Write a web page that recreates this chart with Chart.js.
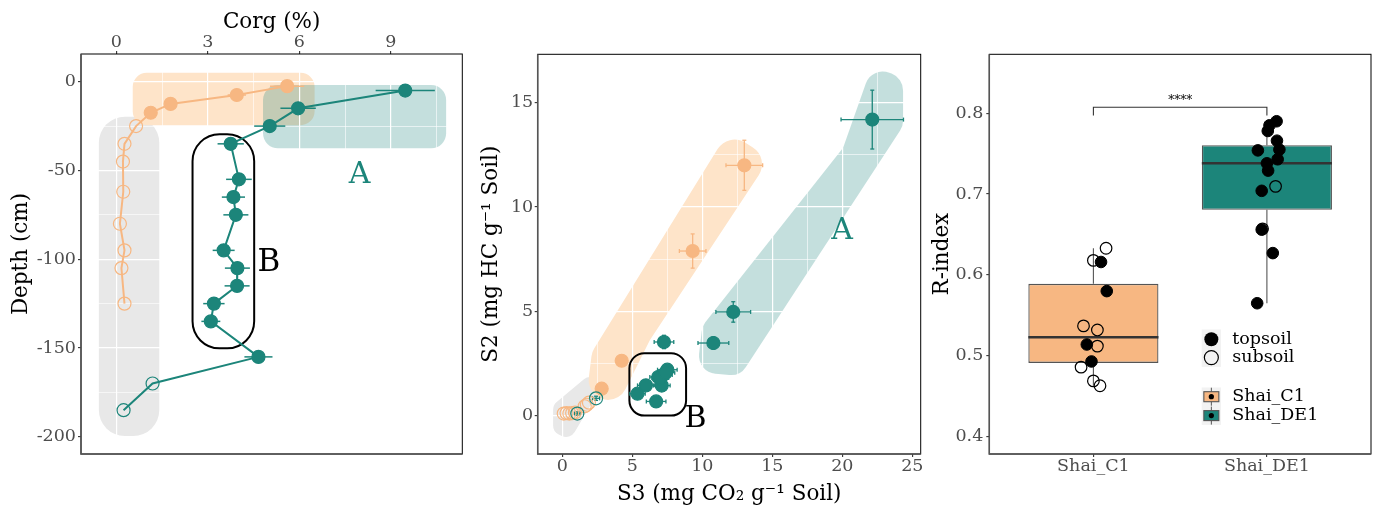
<!DOCTYPE html>
<html><head><meta charset="utf-8">
<script src="https://cdn.jsdelivr.net/npm/chart.js@4.4.1/dist/chart.umd.min.js"></script>
<style>
html,body{margin:0;padding:0;background:#fff;}
#wrap{position:relative;width:1378px;height:508px;overflow:hidden;}
.p{position:absolute;top:0;height:508px;}
</style></head><body>
<div id="wrap">
<div class="p" style="left:0;width:470px"><canvas id="c1"></canvas></div>
<div class="p" style="left:470px;width:460px"><canvas id="c2"></canvas></div>
<div class="p" style="left:930px;width:448px"><canvas id="c3"></canvas></div>
</div>
<script>
// ================= DATA =================
// Panel 1 : Corg (%) vs depth (cm)
const c1Depth   = [-2.5,-7.5,-12.5,-17.5,-25,-35,-45,-62,-80,-95,-105,-125];
const c1Corg    = [5.6,3.95,1.78,1.13,0.65,0.27,0.22,0.23,0.12,0.27,0.17,0.27];
const c1CorgErr = [0.56,0.3,0,0,0,0,0,0,0,0,0,0];
const c1Topsoil = [1,1,1,1,0,0,0,0,0,0,0,0];
const de1Depth   = [-5,-15,-25,-35,-55,-65,-75,-95,-105,-115,-125,-135,-155,-170,-185];
const de1Corg    = [9.47,5.96,5.03,3.75,4.02,3.84,3.92,3.52,3.97,3.96,3.2,3.1,4.66,1.19,0.24];
const de1CorgErr = [0.97,0.58,0.51,0.43,0.42,0.38,0.41,0.36,0.41,0.41,0.35,0.31,0.46,0,0];
const de1Topsoil = [1,1,1,1,1,1,1,1,1,1,1,1,1,0,0];

// Panel 2 : S3 vs S2
const c1S3    = [13.0,9.31,4.24,2.81,1.9,1.75,1.6,0.9,0.7,0.5,0.3,0.1];
const c1S2    = [12.0,7.89,2.63,1.29,0.62,0.52,0.45,0.15,0.12,0.1,0.12,0.1];
const c1S3Err = [1.31,0.95,0,0,0,0,0,0,0,0,0,0];
const c1S2Err = [1.2,0.82,0,0,0,0,0,0,0,0,0,0];
const c1S23Top = [1,1,1,1,0,0,0,0,0,0,0,0];
const de1S3    = [22.14,12.21,10.79,7.26,6.7,5.37,5.97,7.1,6.85,7.2,7.0,7.5,7.38,2.41,1.07];
const de1S2    = [14.19,4.97,3.48,3.53,0.68,1.05,1.45,1.44,1.85,1.95,1.8,2.2,2.06,0.83,0.1];
const de1S3Err = [2.23,1.24,1.1,0.7,0.7,0.55,0.6,0.6,0.6,0.65,0.6,0.7,0.65,0.25,0.2];
const de1S2Err = [1.41,0.49,0.3,0.32,0.12,0.12,0.15,0.15,0.15,0.15,0.15,0.15,0.15,0.1,0.08];
const de1S23Top = [1,1,1,1,1,1,1,1,1,1,1,1,1,0,0];

// Panel 3 : R-index
const rCats = ['Shai_C1','Shai_DE1'];
const rC1TopX = [1.077,1.044,0.962,0.989];
const rC1TopY = [0.580,0.616,0.514,0.493];
const rC1SubX = [1.073,1.0,0.943,1.023,1.023,0.929,1.0,1.038];
const rC1SubY = [0.633,0.618,0.537,0.532,0.512,0.486,0.469,0.463];
const rDE1TopX = [2.056,2.015,2.005,2.058,1.948,2.072,2.062,2.0,2.007,1.97,1.97,2.034,1.944];
const rDE1TopY = [0.790,0.785,0.778,0.766,0.754,0.755,0.743,0.738,0.729,0.704,0.656,0.627,0.565];
const rDE1SubX = [2.05,1.975];
const rDE1SubY = [0.7095,0.657];
const sigLabel = '****';

// Ticks
const p1xMajor = [0,3,6,9],            p1xMinor = [1.5,4.5,7.5,10.5];
const p1yMajor = [-200,-150,-100,-50,0], p1yMinor = [-175,-125,-75,-25];
const p2xMajor = [0,5,10,15,20,25],    p2xMinor = [2.5,7.5,12.5,17.5,22.5];
const p2yMajor = [0,5,10,15],          p2yMinor = [2.5,7.5,12.5];
const p3yMajor = [0.4,0.5,0.6,0.7,0.8], p3yMinor = [0.45,0.55,0.65,0.75,0.85];
const p3xMajor = [1,2];

// Highlight regions (data units)
const p1RegionGray   = [[-0.57,-19.7],[1.41,-19.7],[1.41,-199.6],[-0.57,-199.6]];
const p1RegionOrange = [[0.54,5],[6.5,5],[6.5,-24.5],[0.54,-24.5]];
const p1RegionTeal   = [[4.81,-1.9],[10.81,-1.9],[10.81,-37.5],[4.81,-37.5]];
const p1RegionB      = [[2.5,-29.6],[4.52,-29.6],[4.52,-150.2],[2.5,-150.2]];
const p2RegionGray   = [[-0.66,0.51],[1.98,1.99],[2.91,1.51],[0.55,-1.17],[-0.66,-0.78]];
const p2RegionOrange = [[1.69,0.75],[2.12,3.05],[11.84,13.59],[14.84,12.35],[6.26,3.63],[4.12,0.75]];
const p2RegionTeal   = [[9.62,2.09],[10.0,4.30],[20.05,12.83],[22.12,16.76],[24.34,16.18],[24.34,13.88],[12.69,1.90]];
const p2RegionB      = [[4.79,2.99],[8.84,2.99],[8.84,0],[4.79,0]];
const p1LabelA = [7.97,-51], p1LabelB = [5.0,-100.5];
const p2LabelA = [19.98,8.98], p2LabelB = [9.51,0];

// ================= STYLE =================
const FONT = "'DejaVu Serif', serif";
Chart.defaults.font.family = FONT;
Chart.defaults.animation = false;
const ORANGE = '#F7B782';
const TEAL = '#1C857A';
const ORANGE_FILL = 'rgb(254,228,201)';
const TEAL_FILL = 'rgba(28,133,122,0.26)';
const GRAY_FILL = 'rgb(232,232,232)';
const TICK_COLOR = '#4D4D4D';
const NONE = 'rgba(0,0,0,0)';

function makeTicks(major, minor) {
  return major.map(v => ({value: v})).concat((minor||[]).map(v => ({value: v, mn: true})))
    .sort((a, b) => a.value - b.value);
}
function axis(o) {
  return {
    type: 'linear', position: o.position, min: o.min, max: o.max, offset: false,
    afterBuildTicks: s => { s.ticks = makeTicks(o.major, o.minor); },
    afterFit: s => { if (s.isHorizontal()) s.height = o.size; else s.width = o.size; },
    ticks: { color: TICK_COLOR, font: {size: 17.5, lineHeight: 1}, padding: o.tickPad,
      autoSkip: false, maxRotation: 0, minRotation: 0,
      callback: (v, i, ticks) => ticks[i].mn ? '' : o.fmt(v) },
    grid: { offset: false, color: '#ffffff', lineWidth: c => (c.tick && c.tick.mn) ? 0.6 : 1.2,
      tickColor: c => (c.tick && c.tick.mn) ? NONE : '#333333', tickLength: 3, tickWidth: 1.1 },
    border: { display: false },
    title: { display: !!o.title, text: o.title || '', color: '#000', font: {size: 21.5},
      padding: {top: o.titlePad || 0, bottom: o.titlePad || 0} }
  };
}
function roundedPoly(ctx, pts, r) {
  const n = pts.length;
  const m = [(pts[n-1][0]+pts[0][0])/2, (pts[n-1][1]+pts[0][1])/2];
  ctx.beginPath(); ctx.moveTo(m[0], m[1]);
  for (let i = 0; i < n; i++) {
    const p = pts[i], q = pts[(i+1)%n];
    const mq = [(p[0]+q[0])/2, (p[1]+q[1])/2];
    ctx.arcTo(p[0], p[1], mq[0], mq[1], r);
  }
  ctx.closePath();
}
const toPx = (chart, pts) => pts.map(p => [chart.scales.x.getPixelForValue(p[0]), chart.scales.y.getPixelForValue(p[1])]);

const regionPlugin = {
  id: 'regions',
  beforeDraw(chart, a, opts) {
    const ctx = chart.ctx;
    (opts.fills || []).forEach(r => {
      ctx.save(); roundedPoly(ctx, toPx(chart, r.pts), r.r); ctx.fillStyle = r.fill; ctx.fill(); ctx.restore();
    });
  },
  beforeDatasetsDraw(chart, a, opts) {
    const ctx = chart.ctx;
    (opts.outlines || []).forEach(r => {
      ctx.save(); roundedPoly(ctx, toPx(chart, r.pts), r.r); ctx.strokeStyle = '#000'; ctx.lineWidth = 2; ctx.stroke(); ctx.restore();
    });
    (opts.labels || []).forEach(l => {
      const [px, py] = toPx(chart, [l.pos])[0];
      ctx.save(); ctx.font = l.size + 'px ' + FONT; ctx.fillStyle = l.color; ctx.textAlign = 'center'; ctx.textBaseline = 'alphabetic';
      ctx.fillText(l.text, px, py + 0.729 * l.size / 2); ctx.restore();
    });
    const xs = chart.scales.x, ys = chart.scales.y;
    (opts.errs || []).forEach(g => {
      ctx.save(); ctx.strokeStyle = g.color; ctx.lineWidth = g.width;
      const seg = (x1, y1, x2, y2) => { ctx.beginPath(); ctx.moveTo(x1, y1); ctx.lineTo(x2, y2); ctx.stroke(); };
      g.x.forEach((xv, i) => {
        const px = xs.getPixelForValue(xv), py = ys.getPixelForValue(g.y[i]);
        if (g.xe && g.xe[i]) {
          const l = xs.getPixelForValue(xv - g.xe[i]), r = xs.getPixelForValue(xv + g.xe[i]);
          seg(l, py, r, py);
          if (g.cap) { seg(l, py-g.cap, l, py+g.cap); seg(r, py-g.cap, r, py+g.cap); }
        }
        if (g.ye && g.ye[i]) {
          const t = ys.getPixelForValue(g.y[i] + g.ye[i]), b = ys.getPixelForValue(g.y[i] - g.ye[i]);
          seg(px, t, px, b);
          if (g.cap) { seg(px-g.cap, t, px+g.cap, t); seg(px-g.cap, b, px+g.cap, b); }
        }
      });
      ctx.restore();
    });
  },
  afterDraw(chart) {
    const ctx = chart.ctx, ca = chart.chartArea;
    ctx.save();
    ctx.strokeStyle = '#000'; ctx.lineWidth = 1;
    ctx.strokeRect(ca.left, ca.top, ca.right - ca.left, ca.bottom - ca.top);
    ctx.strokeStyle = '#555'; ctx.lineWidth = 1.5;
    ctx.beginPath(); ctx.moveTo(ca.left, ca.top); ctx.lineTo(ca.left, ca.bottom); ctx.lineTo(ca.right, ca.bottom); ctx.stroke();
    ctx.restore();
  }
};
Chart.register(regionPlugin);

const baseOpts = { responsive: true, maintainAspectRatio: false, devicePixelRatio: 1, events: [],
  plugins: { legend: {display: false}, tooltip: {enabled: false} } };

// ================= PANEL 1 =================
new Chart(document.getElementById('c1'), {
  type: 'line',
  data: { datasets: [
    { label: 'Shai_DE1', data: de1Depth.map((d, i) => ({x: de1Corg[i], y: d})), borderColor: TEAL, borderWidth: 2,
      pointRadius: 6.5, pointBorderWidth: 1.2, pointBorderColor: TEAL,
      pointBackgroundColor: de1Topsoil.map(t => t ? TEAL : NONE), tension: 0 },
    { label: 'Shai_C1', data: c1Depth.map((d, i) => ({x: c1Corg[i], y: d})), borderColor: ORANGE, borderWidth: 2,
      pointRadius: 6.5, pointBorderWidth: 1.2, pointBorderColor: ORANGE,
      pointBackgroundColor: c1Topsoil.map(t => t ? ORANGE : NONE), tension: 0 }
  ]},
  options: Object.assign({}, baseOpts, {
    layout: { padding: {left: 0, right: 7, top: 0, bottom: 54} },
    scales: {
      x: axis({position: 'top', min: -1.155, max: 11.34, major: p1xMajor, minor: p1xMinor, size: 54,
        title: 'Corg (%)', titlePad: 10, tickPad: 0, fmt: v => String(v)}),
      y: axis({position: 'left', min: -209.7, max: 15.6, major: p1yMajor, minor: p1yMinor, size: 81,
        title: 'Depth (cm)', titlePad: 9, tickPad: 2, fmt: v => String(v)})
    },
    plugins: Object.assign({}, baseOpts.plugins, { regions: {
      fills: [ {pts: p1RegionGray, r: 26, fill: GRAY_FILL}, {pts: p1RegionOrange, r: 14, fill: ORANGE_FILL},
               {pts: p1RegionTeal, r: 15, fill: TEAL_FILL} ],
      outlines: [ {pts: p1RegionB, r: 27} ],
      labels: [ {text: 'A', pos: p1LabelA, size: 30, color: TEAL}, {text: 'B', pos: p1LabelB, size: 31, color: '#000'} ],
      errs: [ {x: c1Corg, y: c1Depth, xe: c1CorgErr, color: ORANGE, width: 1.5},
              {x: de1Corg, y: de1Depth, xe: de1CorgErr, color: TEAL, width: 1.5} ]
    }})
  })
});

// ================= PANEL 2 =================
new Chart(document.getElementById('c2'), {
  type: 'scatter',
  data: { datasets: [
    { label: 'Shai_DE1', data: de1S3.map((v, i) => ({x: v, y: de1S2[i]})), pointRadius: 6.5, pointBorderWidth: 1.2,
      pointBorderColor: TEAL, pointBackgroundColor: de1S23Top.map(t => t ? TEAL : NONE) },
    { label: 'Shai_C1', data: c1S3.map((v, i) => ({x: v, y: c1S2[i]})), pointRadius: 6.5, pointBorderWidth: 1.2,
      pointBorderColor: ORANGE, pointBackgroundColor: c1S23Top.map(t => t ? ORANGE : NONE) }
  ]},
  options: Object.assign({}, baseOpts, {
    layout: { padding: {left: 0, right: 9.3, top: 54.3, bottom: 0} },
    scales: {
      x: axis({position: 'bottom', min: -1.76, max: 25.6, major: p2xMajor, minor: p2xMinor, size: 54,
        title: 'S3 (mg CO\u2082 g\u207B\u00B9 Soil)', titlePad: 1, tickPad: 1, fmt: v => String(v)}),
      y: axis({position: 'left', min: -1.84, max: 17.32, major: p2yMajor, minor: p2yMinor, size: 67.7,
        title: 'S2 (mg HC g\u207B\u00B9 Soil)', titlePad: 9, tickPad: 1.5, fmt: v => String(v)})
    },
    plugins: Object.assign({}, baseOpts.plugins, { regions: {
      fills: [ {pts: p2RegionGray, r: 10, fill: GRAY_FILL}, {pts: p2RegionOrange, r: 20, fill: ORANGE_FILL},
               {pts: p2RegionTeal, r: 18, fill: TEAL_FILL} ],
      outlines: [ {pts: p2RegionB, r: 15} ],
      labels: [ {text: 'A', pos: p2LabelA, size: 30, color: TEAL}, {text: 'B', pos: p2LabelB, size: 30, color: '#000'} ],
      errs: [ {x: c1S3, y: c1S2, xe: c1S3Err, ye: c1S2Err, color: ORANGE, width: 1.3, cap: 2},
              {x: de1S3, y: de1S2, xe: de1S3Err, ye: de1S2Err, color: TEAL, width: 1.3, cap: 2} ]
    }})
  })
});

// ================= PANEL 3 =================
function quant(arr, p) {
  const s = arr.slice().sort((a, b) => a - b); const h = (s.length - 1) * p; const lo = Math.floor(h);
  return s[lo] + (h - lo) * ((s[lo+1] !== undefined ? s[lo+1] : s[lo]) - s[lo]);
}
function boxStats(vals) {
  const q1 = quant(vals, 0.25), q3 = quant(vals, 0.75), med = quant(vals, 0.5), iqr = q3 - q1;
  const inR = vals.filter(v => v >= q1 - 1.5*iqr && v <= q3 + 1.5*iqr);
  return {q1, q3, med, lo: Math.min(...inR), hi: Math.max(...inR)};
}
const bC1 = boxStats(rC1TopY.concat(rC1SubY));
const bDE1 = boxStats(rDE1TopY.concat(rDE1SubY));
const boxes = [bC1, bDE1];
const HALF = 0.375;
const whiskerPts = [], medianPts = [];
boxes.forEach((b, i) => {
  const x = i + 1;
  whiskerPts.push({x, y: b.hi}, {x, y: b.q3}, {x, y: null}, {x, y: b.q1}, {x, y: b.lo}, {x, y: null});
  medianPts.push({x: x - HALF, y: b.med}, {x: x + HALF, y: b.med}, {x: x + HALF, y: null});
});
const bracketTop = Math.max(bC1.hi, bDE1.hi) + 0.0174;
const bracketPts = [{x: 1, y: bracketTop - 0.0102}, {x: 1, y: bracketTop}, {x: 2, y: bracketTop}, {x: 2, y: bracketTop - 0.0102}];

const p3Extras = {
  id: 'p3extras',
  afterDraw(chart) {
    const ctx = chart.ctx, xs = chart.scales.x, ys = chart.scales.y;
    ctx.save();
    ctx.font = '12px ' + FONT; ctx.fillStyle = '#000'; ctx.textAlign = 'center'; ctx.textBaseline = 'alphabetic';
    ctx.fillText(sigLabel, xs.getPixelForValue(1.5), ys.getPixelForValue(bracketTop) - 3);
    // legends
    const kx = 271.7, kw = 19.3, tx = 302.3;
    ctx.fillStyle = '#F2F2F2';
    ctx.fillRect(kx, 329.5, kw, 37.4);
    ctx.fillRect(kx, 387.5, kw, 37.4);
    const cx = kx + kw / 2;
    ctx.fillStyle = '#000'; ctx.beginPath(); ctx.arc(cx, 339.2, 7, 0, Math.PI*2); ctx.fill();
    ctx.strokeStyle = '#000'; ctx.lineWidth = 1.2; ctx.beginPath(); ctx.arc(cx, 357.6, 7, 0, Math.PI*2); ctx.stroke();
    [[396.7, ORANGE], [415.6, TEAL]].forEach(([yy, col]) => {
      ctx.strokeStyle = '#555'; ctx.lineWidth = 1;
      ctx.beginPath(); ctx.moveTo(cx, yy - 9); ctx.lineTo(cx, yy + 9); ctx.stroke();
      ctx.fillStyle = col; ctx.fillRect(cx - 7.5, yy - 5, 15, 10);
      ctx.strokeStyle = '#555'; ctx.lineWidth = 1.1; ctx.strokeRect(cx - 7.5, yy - 5, 15, 10);
      ctx.fillStyle = '#000'; ctx.beginPath(); ctx.arc(cx, yy, 2.6, 0, Math.PI*2); ctx.fill();
    });
    ctx.fillStyle = '#000'; ctx.font = '17.5px ' + FONT; ctx.textAlign = 'left'; ctx.textBaseline = 'middle';
    ctx.fillText('topsoil', tx, 339.2); ctx.fillText('subsoil', tx, 357.6);
    ctx.fillText(rCats[0], tx, 396.7); ctx.fillText(rCats[1], tx, 415.6);
    ctx.restore();
  }
};

new Chart(document.getElementById('c3'), {
  type: 'scatter',
  data: { datasets: [
    { type: 'scatter', label: 'topsoil', order: 0,
      data: rC1TopX.map((x, i) => ({x, y: rC1TopY[i]})).concat(rDE1TopX.map((x, i) => ({x, y: rDE1TopY[i]}))),
      pointRadius: 5.8, pointBackgroundColor: '#000', pointBorderColor: '#000', pointBorderWidth: 1 },
    { type: 'scatter', label: 'subsoil', order: 1,
      data: rC1SubX.map((x, i) => ({x, y: rC1SubY[i]})).concat(rDE1SubX.map((x, i) => ({x, y: rDE1SubY[i]}))),
      pointRadius: 5.8, pointBackgroundColor: NONE, pointBorderColor: '#000', pointBorderWidth: 1.2 },
    { type: 'line', label: 'median', order: 2, data: medianPts, borderColor: '#333', borderWidth: 2.6,
      pointRadius: 0, spanGaps: false },
    { type: 'bar', label: 'box', order: 3, data: boxes.map((b, i) => ({x: i + 1, y: [b.q1, b.q3]})),
      backgroundColor: [ORANGE, TEAL], borderColor: '#555', borderWidth: 1.3, borderSkipped: false,
      barPercentage: 0.75, categoryPercentage: 1 },
    { type: 'line', label: 'whisker', order: 4, data: whiskerPts, borderColor: '#555', borderWidth: 1.1,
      pointRadius: 0, spanGaps: false },
    { type: 'line', label: 'bracket', order: 5, data: bracketPts, borderColor: '#333', borderWidth: 1.1,
      pointRadius: 0 }
  ]},
  options: Object.assign({}, baseOpts, {
    layout: { padding: {left: 0, right: 5.7, top: 54.3, bottom: 0} },
    scales: {
      x: axis({position: 'bottom', min: 0.4, max: 2.6, major: p3xMajor, minor: [], size: 54,
        tickPad: 1, fmt: v => rCats[Math.round(v) - 1]}),
      y: axis({position: 'left', min: 0.3786, max: 0.8728, major: p3yMajor, minor: p3yMinor, size: 59.3,
        title: 'R-index', titlePad: 0, tickPad: 3, fmt: v => v.toFixed(1)})
    }
  }),
  plugins: [p3Extras]
});
</script>
</body></html>
